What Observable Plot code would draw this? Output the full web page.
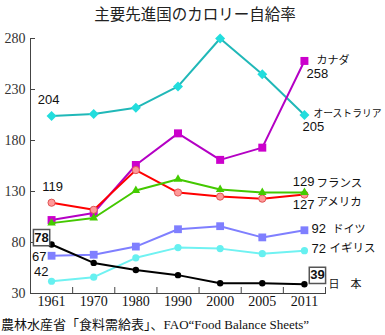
<!DOCTYPE html>
<html><head><meta charset="utf-8">
<script src="https://cdn.jsdelivr.net/npm/d3@7"></script>
<script src="https://cdn.jsdelivr.net/npm/@observablehq/plot@0.6"></script>
<style>
body{margin:0;background:#fff;width:385px;height:335px;overflow:hidden}
#title{height:26px;line-height:26px;text-align:center;padding-left:5px;font-size:15.5px;font-family:"Noto Sans CJK JP",sans-serif;color:#222;white-space:nowrap}
#chart svg{display:block}
#cap{height:20px;line-height:20px;font-size:13px;font-family:"Liberation Serif","Noto Sans CJK JP",serif;padding-left:1px;white-space:nowrap;color:#111}
</style></head><body>
<div id="title">主要先進国のカロリー自給率</div>
<div id="chart"></div>
<div id="cap">農林水産省「食料需給表」、FAO“Food Balance Sheets”</div>
<script>
const years = ["1961","1970","1980","1990","2000","2005","2011"];
const yTicks = [30, 80, 130, 180, 230, 280];
const countryNames = ["オーストラリア","カナダ","アメリカ","フランス","ドイツ","イギリス","日　本"];
const australia = [204, 206, 212, 233, 280, 245, 205];
const canada    = [102, 109, 156, 187, 161, 173, 258];
const usa       = [119, 112, 151, 129, 125, 123, 127];
const france    = [99, 104, 131, 142, 132, 129, 129];
const germany   = [67, 68, 76, 93, 96, 85, 92];
const uk        = [42, 46, 65, 75, 74, 69, 72];
const japan     = [78, 60, 53, 48, 40, 40, 39];

const styles = [
  {values: australia, line: "#20B8B8", fill: "#22DDDD", stroke: "none", symbol: "diamond2", r: 4.5},
  {values: canada,    line: "#B400C4", fill: "#CC00CC", stroke: "none", symbol: "square", r: 4.5},
  {values: usa,       line: "#FF0000", fill: "#FF9999", stroke: "#E05555", symbol: "circle", r: 3.6},
  {values: france,    line: "#44C800", fill: "#44CC00", stroke: "none", symbol: "triangle", r: 3.2},
  {values: germany,   line: "#7F7FFF", fill: "#7F7FFF", stroke: "none", symbol: "square", r: 4.4},
  {values: uk,        line: "#70F2F2", fill: "#66F0F0", stroke: "none", symbol: "circle", r: 3.6},
  {values: japan,     line: "#000000", fill: "#000000", stroke: "none", symbol: "circle", r: 3.2}
];

const series = styles.map((s, k) => ({...s, name: countryNames[k],
  rows: s.values.map((v, i) => ({i, v, name: countryNames[k]}))}));

const numFont = "Liberation Sans, Arial, sans-serif";
const jpFont = "Noto Sans CJK JP, sans-serif";

function lbl(text, arr, i, opts) {
  return Plot.text([{i, v: arr[i]}], {x: "i", y: "v", text: () => text,
    fontFamily: numFont, fontSize: 13, fill: "#111", ...opts});
}

const marks = [
  Plot.frame({anchor: "left", stroke: "#444"}),
  Plot.frame({anchor: "bottom", stroke: "#444"}),
  Plot.axisY(yTicks, {anchor: "left", tickSize: -5, tickPadding: 10, fontSize: 14,
    fontFamily: "Liberation Serif, serif", fill: "#333", stroke: "#444", label: null}),
  Plot.axisX(d3.range(-0.5, years.length, 1), {anchor: "bottom", tickSize: -6,
    tickFormat: () => "", stroke: "#444", label: null}),
  Plot.axisX(years.map((_, i) => i), {anchor: "bottom", tickSize: 0, tickPadding: 3,
    tickFormat: i => years[i], fontSize: 14, fontFamily: "Liberation Serif, serif", fill: "#111", label: null})
];

for (const s of series) {
  marks.push(Plot.line(s.rows, {x: "i", y: "v", stroke: s.line, strokeWidth: 2}));
  marks.push(Plot.dot(s.rows, {x: "i", y: "v", symbol: s.symbol, r: s.r, fill: s.fill,
    stroke: s.stroke, strokeWidth: 1}));
}

const last = years.length - 1;
marks.push(
  lbl(String(australia[0]), australia, 0, {textAnchor: "middle", dx: -3, dy: -16}),
  lbl(String(australia[last]), australia, last, {textAnchor: "start", dx: -2, dy: 12}),
  lbl(countryNames[0], australia, last, {textAnchor: "start", dx: 9, dy: -1, fontFamily: jpFont, fontSize: 9.8}),
  lbl(String(canada[last]), canada, last, {textAnchor: "start", dx: 2, dy: 13}),
  lbl(countryNames[1], canada, last, {textAnchor: "start", dx: 12, dy: 0, fontFamily: jpFont, fontSize: 11}),
  lbl(String(usa[0]), usa, 0, {textAnchor: "middle", dx: 1, dy: -16}),
  lbl(String(usa[last]), usa, last, {textAnchor: "end", dx: 10, dy: 10}),
  lbl(countryNames[2], usa, last, {textAnchor: "start", dx: 12, dy: 8, fontFamily: jpFont, fontSize: 11.5}),
  lbl(String(france[last]), france, last, {textAnchor: "end", dx: 10, dy: -11}),
  lbl(countryNames[3], france, last, {textAnchor: "start", dx: 12, dy: -9, fontFamily: jpFont, fontSize: 11.5}),
  lbl(String(germany[0]), germany, 0, {textAnchor: "end", dx: -5, dy: 1}),
  lbl(String(germany[last]), germany, last, {textAnchor: "start", dx: 7, dy: -1}),
  lbl(countryNames[4], germany, last, {textAnchor: "start", dx: 28, dy: -1, fontFamily: jpFont, fontSize: 11}),
  lbl(String(uk[0]), uk, 0, {textAnchor: "end", dx: -3, dy: -9}),
  lbl(String(uk[last]), uk, last, {textAnchor: "start", dx: 7, dy: -2}),
  lbl(countryNames[5], uk, last, {textAnchor: "start", dx: 25, dy: -2, fontFamily: jpFont, fontSize: 11.5}),
  Plot.dot([{i: 0, v: japan[0]}], {x: "i", y: "v", symbol: "square", r: 9.2, fill: "white", stroke: "#555", dx: -10, dy: -7}),
  lbl(String(japan[0]), japan, 0, {textAnchor: "middle", dx: -10, dy: -7, fontWeight: "bold"}),
  Plot.dot([{i: last, v: japan[last]}], {x: "i", y: "v", symbol: "square", r: 9.2, fill: "white", stroke: "#555", dx: 13, dy: -9}),
  lbl(String(japan[last]), japan, last, {textAnchor: "middle", dx: 13, dy: -9, fontWeight: "bold"}),
  lbl(countryNames[6], japan, last, {textAnchor: "start", dx: 24, dy: 0, fontFamily: jpFont, fontSize: 11})
);

const chart = Plot.plot({
  width: 385,
  height: 289,
  marginTop: 12,
  marginBottom: 22,
  marginLeft: 30,
  marginRight: 60,
  x: {type: "linear", domain: [-0.5, years.length - 0.5]},
  y: {domain: [30, 280]},
  style: {background: "white", overflow: "visible"},
  marks
});
document.getElementById("chart").appendChild(chart);
</script>
</body></html>
